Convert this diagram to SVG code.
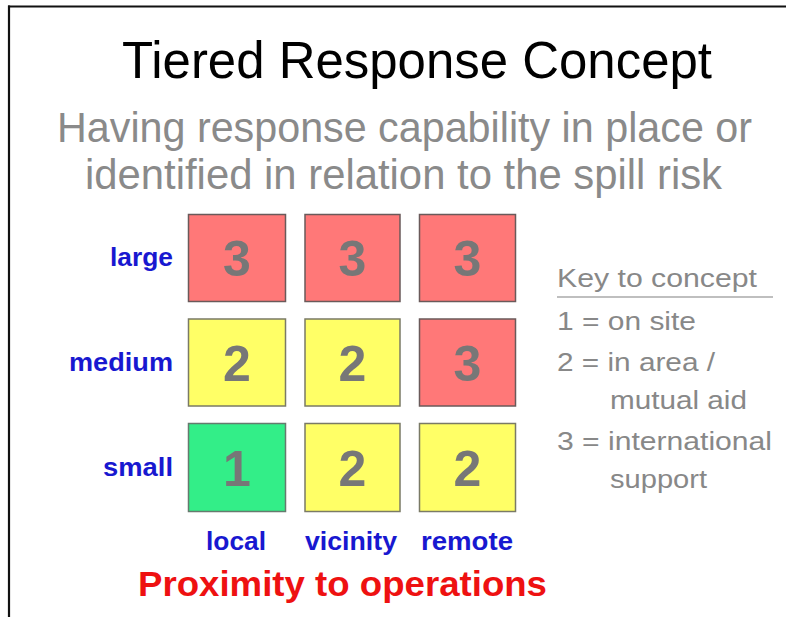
<svg xmlns="http://www.w3.org/2000/svg" width="786" height="617" viewBox="0 0 786 617">
  <style>
    text { font-family: "Liberation Sans", Arial, sans-serif; }
    .title { font-size: 52px; fill: #000; }
    .sub { font-size: 43px; fill: #8a8a8a; }
    .lab { font-size: 26px; font-weight: bold; fill: #1818d0; }
    .num { font-size: 50px; font-weight: bold; fill: #777; text-anchor: middle; }
    .red { fill: #ff7878; stroke: #6a5a5a; stroke-width: 1.5; }
    .yel { fill: #ffff66; stroke: #7a7a66; stroke-width: 1.5; }
    .grn { fill: #33ee88; stroke: #667a6e; stroke-width: 1.5; }
    .key { font-size: 25px; fill: #888; }
    .axis { font-size: 35px; font-weight: bold; fill: #ee1111; }
  </style>
  <rect width="786" height="617" fill="#fff"/>
  <g id="frame" stroke="#111" stroke-width="2.2" fill="none">
    <line x1="8" y1="6.5" x2="786" y2="6.5"/>
    <line x1="9" y1="5.5" x2="9" y2="617"/>
  </g>
  <g id="title">
    <text class="title" x="122" y="78" textLength="590" lengthAdjust="spacingAndGlyphs">Tiered Response Concept</text>
  </g>
  <g id="subtitle">
    <text class="sub" x="57" y="142" textLength="695" lengthAdjust="spacingAndGlyphs">Having response capability in place or</text>
    <text class="sub" x="85" y="189" textLength="637" lengthAdjust="spacingAndGlyphs">identified in relation to the spill risk</text>
  </g>
  <g id="row-labels">
    <text class="lab" x="173" y="266" text-anchor="end" textLength="63" lengthAdjust="spacingAndGlyphs">large</text>
    <text class="lab" x="173" y="371" text-anchor="end" textLength="104" lengthAdjust="spacingAndGlyphs">medium</text>
    <text class="lab" x="173" y="476" text-anchor="end" textLength="70" lengthAdjust="spacingAndGlyphs">small</text>
  </g>
  <g id="cell-large-local"><rect class="red" x="188.5" y="214.5" width="97" height="87"/><text class="num" x="237" y="276">3</text></g>
  <g id="cell-large-vicinity"><rect class="red" x="305" y="214.5" width="95" height="87"/><text class="num" x="352.5" y="276">3</text></g>
  <g id="cell-large-remote"><rect class="red" x="419.5" y="214.5" width="96" height="87"/><text class="num" x="467.5" y="276">3</text></g>
  <g id="cell-medium-local"><rect class="yel" x="188.5" y="319" width="97" height="87"/><text class="num" x="237" y="381">2</text></g>
  <g id="cell-medium-vicinity"><rect class="yel" x="305" y="319" width="95" height="87"/><text class="num" x="352.5" y="381">2</text></g>
  <g id="cell-medium-remote"><rect class="red" x="419.5" y="319" width="96" height="87"/><text class="num" x="467.5" y="381">3</text></g>
  <g id="cell-small-local"><rect class="grn" x="188.5" y="423.5" width="97" height="88"/><text class="num" x="237" y="486">1</text></g>
  <g id="cell-small-vicinity"><rect class="yel" x="305" y="423.5" width="95" height="88"/><text class="num" x="352.5" y="486">2</text></g>
  <g id="cell-small-remote"><rect class="yel" x="419.5" y="423.5" width="96" height="88"/><text class="num" x="467.5" y="486">2</text></g>
  <g id="col-labels">
    <text class="lab" x="206" y="550" textLength="60" lengthAdjust="spacingAndGlyphs">local</text>
    <text class="lab" x="305" y="550" textLength="92" lengthAdjust="spacingAndGlyphs">vicinity</text>
    <text class="lab" x="421" y="550" textLength="92" lengthAdjust="spacingAndGlyphs">remote</text>
  </g>
  <g id="axis-label">
    <text class="axis" x="138" y="596" textLength="409" lengthAdjust="spacingAndGlyphs">Proximity to operations</text>
  </g>
  <g id="key">
    <text class="key" x="557" y="287" textLength="200" lengthAdjust="spacingAndGlyphs">Key to concept</text>
    <line x1="557" y1="297" x2="773" y2="297" stroke="#aaa" stroke-width="1.5"/>
    <text class="key" x="557" y="330" textLength="139" lengthAdjust="spacingAndGlyphs">1 = on site</text>
    <text class="key" x="557" y="371" textLength="158" lengthAdjust="spacingAndGlyphs">2 = in area /</text>
    <text class="key" x="610" y="409" textLength="137" lengthAdjust="spacingAndGlyphs">mutual aid</text>
    <text class="key" x="557" y="450" textLength="215" lengthAdjust="spacingAndGlyphs">3 = international</text>
    <text class="key" x="610" y="488" textLength="97" lengthAdjust="spacingAndGlyphs">support</text>
  </g>
</svg>
